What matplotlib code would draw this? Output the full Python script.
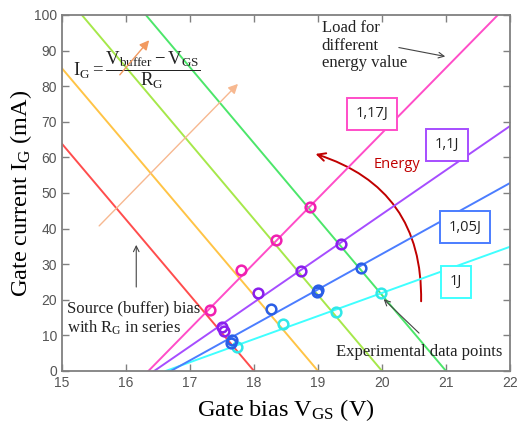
import matplotlib
matplotlib.use("Agg")
import matplotlib.pyplot as plt
from matplotlib.patches import FancyArrowPatch

plt.rcParams['mathtext.fontset'] = 'custom'
plt.rcParams['mathtext.rm'] = 'Liberation Serif'
plt.rcParams['mathtext.it'] = 'Liberation Serif:italic'

# source (buffer) bias lines, endpoints
src_x = [[15.0, 18.0], [15.0, 19.0], [15.31, 20.0], [16.31, 21.0]]
src_y = [[63.8, 0.0], [85.0, 0.0], [100.0, 0.0], [100.0, 0.0]]
src_col = ['#ff4d4d', '#ffc446', '#a6e84a', '#4ce66a']

# load lines for the four energies
load_names = ['1J', '1,05J', '1,1J', '1,17J']
load_x = [[16.62, 22.0], [16.70, 22.0], [16.44, 22.0], [16.35, 21.81]]
load_y = [[0.0, 34.9], [0.0, 52.8], [0.0, 68.8], [0.0, 100.0]]
load_col = ['#40ffff', '#4b7dff', '#a64dff', '#ff4dc8']
mark_col = ['#30e8e8', '#2a5ee6', '#8a1eec', '#f020b0']

# experimental points
pts_x = [[17.74, 18.45, 19.28, 19.98],
         [17.66, 17.64, 18.27, 19.0, 18.98, 19.67],
         [17.5, 17.53, 18.07, 18.73, 19.36],
         [17.31, 17.80, 18.35, 18.875]]
pts_y = [[6.7, 13.3, 16.7, 21.9],
         [8.6, 8.0, 17.3, 22.7, 22.2, 29.0],
         [12.4, 11.3, 22.0, 28.2, 35.6],
         [17.1, 28.3, 36.8, 46.0]]

box_x = [21.16, 21.3, 21.02, 19.84]
box_y = [25.0, 40.4, 63.5, 72.2]

fig = plt.figure(figsize=(5.18, 4.28), dpi=100)
ax = fig.add_axes([0.1197, 0.1332, 0.8649, 0.8318])

for xs, ys, c in zip(src_x, src_y, src_col):
    ax.plot(xs, ys, color=c, lw=1.4)
for xs, ys, c in zip(load_x, load_y, load_col):
    ax.plot(xs, ys, color=c, lw=1.4)
for xs, ys, c in zip(pts_x, pts_y, mark_col):
    ax.plot(xs, ys, 'o', ms=7, mfc='none', mec=c, mew=1.8, ls='none')

ax.set_xlim(15, 22)
ax.set_ylim(0, 100)
ax.set_xticks(range(15, 23))
ax.set_yticks(range(0, 101, 10))
gray = '#808080'
for s in ax.spines.values():
    s.set_color(gray)
    s.set_linewidth(1.3)
ax.tick_params(direction='in', length=5, width=1.0, color=gray, top=True, right=True,
               labelcolor='#555555', labelsize=10)
for lab in ax.get_xticklabels() + ax.get_yticklabels():
    lab.set_family('Liberation Sans')

ax.set_xlabel(r'Gate bias V$_\mathrm{GS}$ (V)', family='Liberation Serif', fontsize=17.5, labelpad=5)
ax.set_ylabel(r'Gate current I$_\mathrm{G}$ (mA)', family='Liberation Serif', fontsize=17.5, labelpad=0)

# formula
ax.text(15.17, 84.4, r'$\mathrm{I_G} = \dfrac{\mathrm{V_{buffer}} - \mathrm{V_{GS}}}{\mathrm{R_G}}$',
        fontsize=13.5, ha='left', va='center', color='#222222')

# orange arrows
ax.annotate('', xy=(16.39, 93.5), xytext=(15.875, 82.6),
            arrowprops=dict(arrowstyle='-|>', color='#f29a60', lw=1.0, mutation_scale=14))
ax.annotate('', xy=(17.78, 81.2), xytext=(15.55, 40.2),
            arrowprops=dict(arrowstyle='-|>', color='#f7b890', lw=1.0, mutation_scale=14))

ax.text(19.06, 98.5, 'Load for\ndifferent\nenergy value', family='Liberation Serif', fontsize=12,
        ha='left', va='top', color='#222222', linespacing=1.1)
ax.annotate('', xy=(21.03, 88.2), xytext=(20.22, 91.0),
            arrowprops=dict(arrowstyle='->', color='#444444', lw=0.8))

for name, bx, by, c in zip(load_names, box_x, box_y, load_col):
    ax.text(bx, by, name, fontsize=10.5, family='Open Sans', ha='center', va='center', color='#222222',
            bbox=dict(boxstyle='square,pad=0.6', fc='white', ec=c, lw=1.4))

ax.text(20.23, 57.9, 'Energy', fontsize=10.5, family='Open Sans', color='#c00000', ha='center', va='center')
ax.add_patch(FancyArrowPatch((20.61, 18.8), (18.92, 61.2), connectionstyle='arc3,rad=0.38',
                             arrowstyle='->', mutation_scale=14, color='#c00000', lw=1.4))

ax.text(15.08, 14.8, 'Source (buffer) bias\nwith R$_\\mathrm{G}$ in series', family='Liberation Serif',
        fontsize=12, ha='left', va='center', color='#222222', linespacing=1.15)
ax.annotate('', xy=(16.16, 36.2), xytext=(16.16, 22.8),
            arrowprops=dict(arrowstyle='->', color='#444444', lw=0.8))

ax.text(19.28, 5.4, 'Experimental data points', family='Liberation Serif', fontsize=12,
        ha='left', va='center', color='#222222')
ax.annotate('', xy=(19.995, 20.7), xytext=(20.61, 10.1),
            arrowprops=dict(arrowstyle='->', color='#444444', lw=0.8))

fig.savefig('out.png', dpi=100)
